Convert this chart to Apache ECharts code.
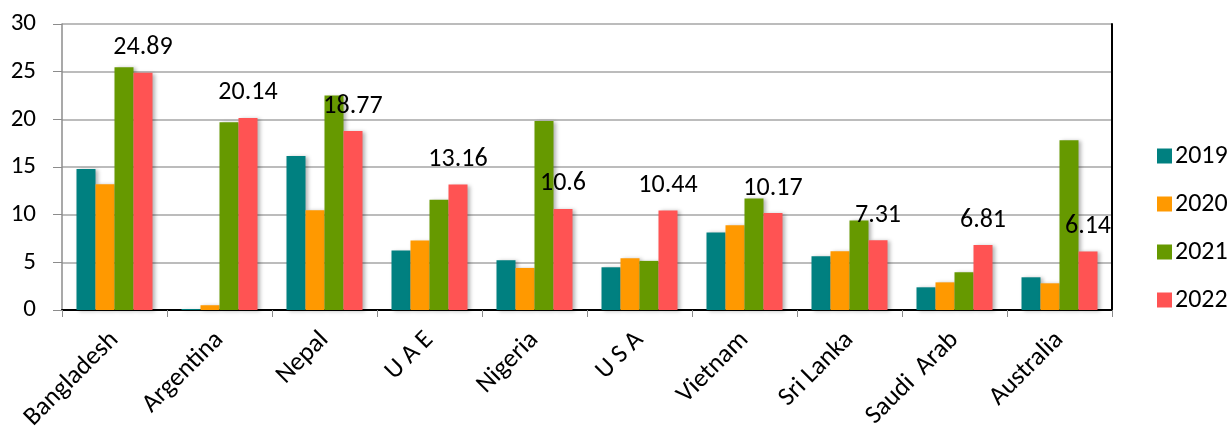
<!DOCTYPE html>
<html>
<head>
<meta charset="utf-8">
<script src="https://cdn.jsdelivr.net/npm/echarts@6/dist/echarts.min.js"></script>
<style>
  html, body { margin: 0; padding: 0; background: #fff; }
  #chart { width: 1231px; height: 428px; }
</style>
</head>
<body>
<div id="chart"></div>
<script>
const countries = ['Bangladesh', 'Argentina', 'Nepal', 'U A E', 'Nigeria', 'U S A', 'Vietnam', 'Sri Lanka', 'Saudi  Arab', 'Australia']
const years = ['2019', '2020', '2021', '2022']
const v2019 = [14.8, 0.1, 16.15, 6.23, 5.22, 4.48, 8.13, 5.64, 2.38, 3.43]
const v2020 = [13.2, 0.5, 10.47, 7.29, 4.41, 5.43, 8.9, 6.16, 2.9, 2.8]
const v2021 = [25.46, 19.7, 22.5, 11.56, 19.82, 5.15, 11.7, 9.39, 3.96, 17.8]
const v2022 = [24.89, 20.14, 18.77, 13.16, 10.6, 10.44, 10.17, 7.31, 6.81, 6.14]
const yTicks = [0, 5, 10, 15, 20, 25, 30]

const colors = ['#008080', '#FF9900', '#669900', '#FF5353']
const font = 'Carlito, Lato, sans-serif'

const chart = echarts.init(document.getElementById('chart'))

const barStyle = (c) => ({
    color: c,
    shadowBlur: 4,
    shadowColor: 'rgba(0,0,0,0.3)',
    shadowOffsetX: 2,
    shadowOffsetY: 1
})

const seriesData = [v2019, v2020, v2021, v2022]
const series = seriesData.map((d, i) => ({
    name: years[i],
    type: 'bar',
    xAxisIndex: 0,
    yAxisIndex: 0,
    barWidth: 19,
    barGap: '0%',
    itemStyle: barStyle(colors[i]),
    label: i === 3 ? {
        show: true,
        position: 'top',
        distance: 12,
        color: '#000',
        fontFamily: font,
        fontSize: 26
    } : { show: false },
    data: d
}))

const option = {
    animation: false,
    color: colors,
    legend: {
        orient: 'vertical',
        left: 1152,
        top: 138,
        itemWidth: 15,
        itemHeight: 15,
        itemGap: 22,
        icon: 'rect',
        textStyle: { fontFamily: font, fontSize: 26, color: '#000', lineHeight: 26, padding: [0, 0, 0, -2] },
        data: years
    },
    grid: { left: 62, right: 119, top: 24, bottom: 118, containLabel: false, outerBoundsMode: 'none' },
    xAxis: [
        {
            type: 'category',
            data: countries,
            axisLine: { lineStyle: { color: '#8c8c8c', width: 1.5 } },
            axisTick: { show: true, length: 7, lineStyle: { color: '#8c8c8c' } },
            axisLabel: {
                rotate: 45,
                interval: 0,
                margin: 26,
                fontFamily: font,
                fontSize: 26,
                color: '#000'
            }
        },
        {
            type: 'category',
            position: 'top',
            data: countries,
            axisLine: { lineStyle: { color: '#000', width: 2 } },
            axisTick: { show: false },
            axisLabel: { show: false }
        }
    ],
    yAxis: [
        {
            type: 'value',
            min: yTicks[0],
            max: yTicks[yTicks.length - 1],
            interval: 5,
            axisLine: { show: true, lineStyle: { color: '#8c8c8c', width: 1.5 } },
            axisTick: { show: true, length: 9, lineStyle: { color: '#8c8c8c' } },
            axisLabel: { fontFamily: font, fontSize: 25, color: '#000', margin: 26 },
            splitLine: { lineStyle: { color: '#a6a6a6', width: 1.5 } }
        },
        {
            type: 'value',
            position: 'right',
            min: yTicks[0],
            max: yTicks[yTicks.length - 1],
            interval: 5,
            axisLine: { show: true, lineStyle: { color: '#000', width: 2 } },
            axisTick: { show: false },
            axisLabel: { show: false },
            splitLine: { show: false }
        }
    ],
    series: series
}

chart.setOption(option)
</script>
</body>
</html>
